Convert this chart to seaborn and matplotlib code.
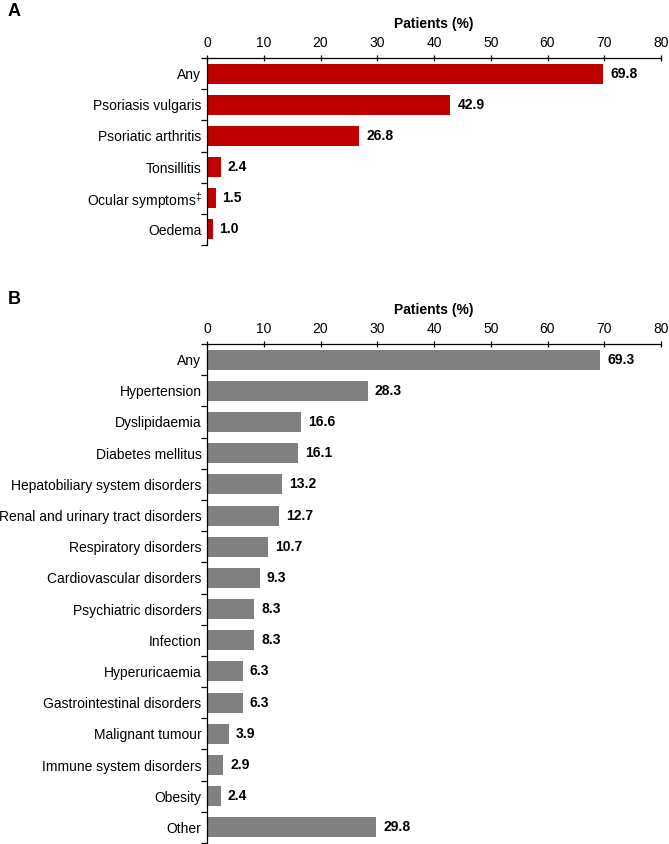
import matplotlib
matplotlib.use("Agg")
import matplotlib.pyplot as plt
import seaborn as sns
import pandas as pd
import numpy as np

# Panel A: psoriasis-related events
cats_a = ["Any", "Psoriasis vulgaris", "Psoriatic arthritis", "Tonsillitis",
          "Ocular symptoms$^{\\ddag}$", "Oedema"]
vals_a = [69.8, 42.9, 26.8, 2.4, 1.5, 1.0]

# Panel B: comorbidities
cats_b = ["Any", "Hypertension", "Dyslipidaemia", "Diabetes mellitus",
          "Hepatobiliary system disorders", "Renal and urinary tract disorders",
          "Respiratory disorders", "Cardiovascular disorders", "Psychiatric disorders",
          "Infection", "Hyperuricaemia", "Gastrointestinal disorders",
          "Malignant tumour", "Immune system disorders", "Obesity", "Other"]
vals_b = [69.3, 28.3, 16.6, 16.1, 13.2, 12.7, 10.7, 9.3, 8.3, 8.3, 6.3, 6.3,
          3.9, 2.9, 2.4, 29.8]

xticks = list(range(0, 81, 10))

sns.set_theme(style="white")
plt.rcParams["font.family"] = ["Liberation Sans", "DejaVu Sans"]
plt.rcParams["mathtext.fontset"] = "custom"
plt.rcParams["mathtext.rm"] = "Liberation Sans"
plt.rcParams["mathtext.it"] = "Liberation Sans"
plt.rcParams["mathtext.bf"] = "Liberation Sans:bold"
plt.rcParams["text.color"] = "black"
plt.rcParams["xtick.color"] = "black"
plt.rcParams["ytick.color"] = "black"
plt.rcParams["axes.labelcolor"] = "black"

W, H = 669, 844
fig = plt.figure(figsize=(W / 100, H / 100), dpi=100)


def panel(rect, cats, vals, color, letter, letter_y):
    ax = fig.add_axes(rect)
    df = pd.DataFrame({"cat": cats, "val": vals})
    sns.barplot(data=df, x="val", y="cat", color=color, saturation=1,
                width=0.64, ax=ax, linewidth=0)
    n = len(cats)
    ax.set_xlim(0, 80)
    ax.set_ylim(n - 0.5, -0.5)
    ax.xaxis.tick_top()
    ax.xaxis.set_label_position("top")
    ax.set_xticks(xticks)
    ax.set_xlabel("Patients (%)", fontsize=10, fontweight="bold", labelpad=6)
    ax.set_ylabel("")
    ax.tick_params(axis="x", direction="inout", length=5, width=0.9,
                   labelsize=10, colors="black", pad=3)
    ax.tick_params(axis="y", which="major", length=0, labelsize=10, pad=4)
    ax.set_yticks(np.arange(-0.5, n, 1.0), minor=True)
    ax.tick_params(axis="y", which="minor", direction="out", length=4,
                   width=0.9, color="black", left=True)
    for s in ["right", "bottom"]:
        ax.spines[s].set_visible(False)
    for s in ["left", "top"]:
        ax.spines[s].set_color("black")
        ax.spines[s].set_linewidth(0.9)
    for c in ax.containers:
        ax.bar_label(c, fmt="%.1f", padding=5, fontsize=10, fontweight="bold",
                     color="black")
    fig.text(8 / W, 1 - letter_y / H, letter, fontsize=13, fontweight="bold",
             va="center", ha="left", color="black")
    return ax


panel([207 / W, 1 - 245 / H, 454 / W, 187 / H], cats_a, vals_a, "#C00000", "A", 12)
panel([207 / W, 1 - 843 / H, 454 / W, 499 / H], cats_b, vals_b, "#808080", "B", 300)

fig.savefig("out.png", dpi=100)
